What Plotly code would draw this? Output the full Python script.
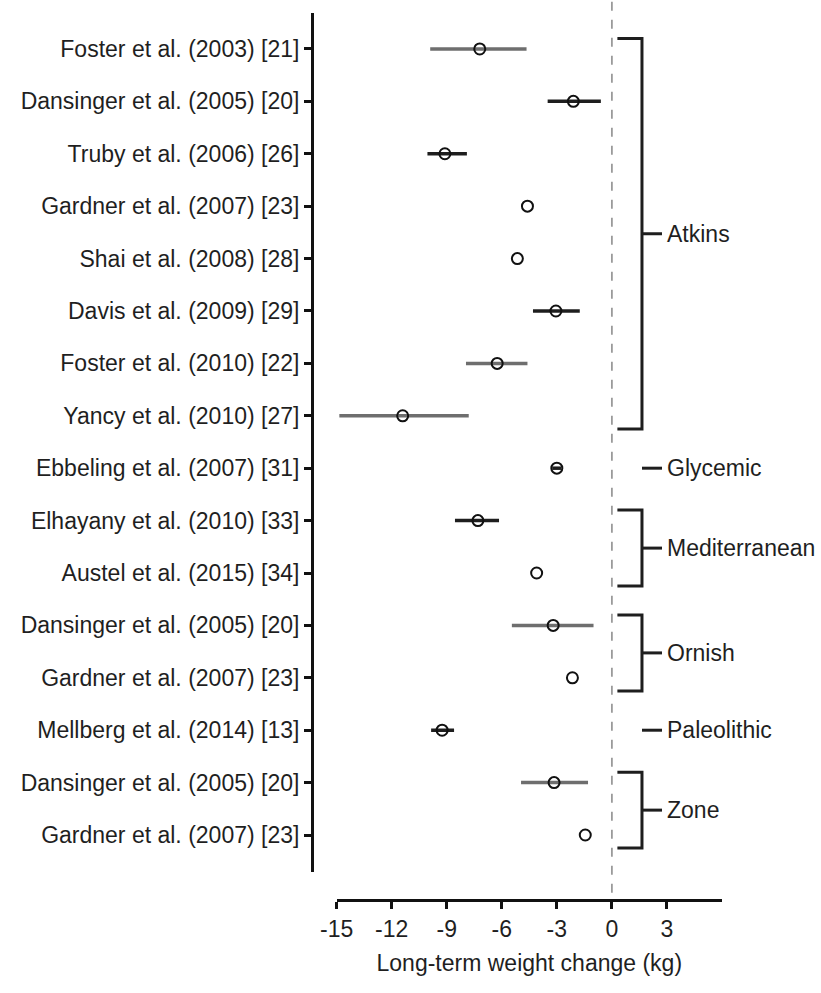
import plotly.graph_objects as go

# ---- data ----
studies = [
    "Foster et al. (2003) [21]",
    "Dansinger et al. (2005) [20]",
    "Truby et al. (2006) [26]",
    "Gardner et al. (2007) [23]",
    "Shai et al. (2008) [28]",
    "Davis et al. (2009) [29]",
    "Foster et al. (2010) [22]",
    "Yancy et al. (2010) [27]",
    "Ebbeling et al. (2007) [31]",
    "Elhayany et al. (2010) [33]",
    "Austel et al. (2015) [34]",
    "Dansinger et al. (2005) [20]",
    "Gardner et al. (2007) [23]",
    "Mellberg et al. (2014) [13]",
    "Dansinger et al. (2005) [20]",
    "Gardner et al. (2007) [23]",
]
diet = ["Atkins"] * 8 + ["Glycemic", "Mediterranean", "Mediterranean",
                         "Ornish", "Ornish", "Paleolithic", "Zone", "Zone"]
estimate = [-7.2, -2.1, -9.1, -4.6, -5.15, -3.05, -6.25, -11.4,
            -3.0, -7.3, -4.1, -3.2, -2.15, -9.25, -3.15, -1.45]
ci_low = [-9.9, -3.5, -10.05, None, None, -4.3, -7.95, -14.85,
          -3.25, -8.55, None, -5.45, None, -9.85, -4.95, None]
ci_high = [-4.65, -0.6, -7.9, None, None, -1.75, -4.6, -7.8,
           -2.75, -6.15, None, -1.0, None, -8.6, -1.3, None]
ci_shade = ["gray", "dark", "dark", None, None, "dark", "gray", "gray",
            "dark", "dark", None, "gray", None, "dark", "gray", None]
x_ticks = [-15, -12, -9, -6, -3, 0, 3]

# ---- styles ----
FONT = "Liberation Sans, Arial, sans-serif"
TXT = "#1f1f1f"
SHADE_COL = {"gray": "#6e6e6e", "dark": "#1e1e1e"}

rows = list(range(1, len(studies) + 1))

fig = go.Figure()

# confidence interval segments
for shade, col in SHADE_COL.items():
    xs, ys = [], []
    for r, lo, hi, s in zip(rows, ci_low, ci_high, ci_shade):
        if s == shade and lo is not None:
            xs += [lo, hi, None]
            ys += [r, r, None]
    fig.add_trace(go.Scatter(x=xs, y=ys, mode="lines",
                             line=dict(color=col, width=3.5),
                             hoverinfo="skip", showlegend=False))

# point estimates
fig.add_trace(go.Scatter(
    x=estimate, y=rows, mode="markers",
    marker=dict(symbol="circle-open", size=11, color="#111111",
                line=dict(width=2, color="#111111")),
    showlegend=False,
))

shapes = []
annotations = []

# reference line at zero
shapes.append(dict(type="line", xref="x", yref="paper", x0=0, x1=0,
                   y0=0.008, y1=1.0,
                   line=dict(color="#9a9a9a", width=1.8, dash="dash")))

# brackets per diet group
BX0, BX1, BX2 = 0.3, 1.64, 2.73
groups = []
for r, d in zip(rows, diet):
    if groups and groups[-1][0] == d:
        groups[-1][2] = r
    else:
        groups.append([d, r, r])

BCOL = "#1e1e1e"
for name, first, last in groups:
    if first == last:
        mid = first
    else:
        top = first - 0.2
        bot = last + 0.25
        mid = (top + bot) / 2
        path = f"M {BX0} {top} L {BX1} {top} L {BX1} {bot} L {BX0} {bot}"
        shapes.append(dict(type="path", xref="x", yref="y", path=path,
                           line=dict(color=BCOL, width=3)))
    shapes.append(dict(type="line", xref="x", yref="y", x0=BX1, x1=BX2,
                       y0=mid, y1=mid, line=dict(color=BCOL, width=3)))
    annotations.append(dict(x=2.9, y=mid, xref="x", yref="y", text=name,
                            showarrow=False, xanchor="left", yanchor="middle",
                            font=dict(family=FONT, size=23, color=TXT)))

fig.update_layout(
    width=821, height=993,
    margin=dict(l=312, r=99, t=0, b=93),
    paper_bgcolor="white", plot_bgcolor="white",
    shapes=shapes, annotations=annotations,
    font=dict(family=FONT, size=23, color=TXT),
    xaxis=dict(
        domain=[0.06, 1.0], range=[-15, 6], anchor="free", position=0,
        showgrid=False, zeroline=False,
        showline=True, linewidth=3, linecolor="#111111",
        ticks="outside", ticklen=7, tickwidth=2.5, tickcolor="#111111",
        tickvals=x_ticks, ticktext=[str(v) for v in x_ticks],
        tickfont=dict(family=FONT, size=23, color=TXT),
        title=dict(text="Long-term weight change (kg)", standoff=14,
                   font=dict(family=FONT, size=23, color=TXT)),
    ),
    yaxis=dict(
        domain=[0.0311, 0.9856], range=[16.706, 0.313], anchor="free",
        position=0, showgrid=False, zeroline=False,
        showline=True, linewidth=3, linecolor="#111111",
        ticks="outside", ticklen=7, tickwidth=2.5, tickcolor="#111111",
        tickvals=rows, ticktext=studies,
        tickfont=dict(family=FONT, size=23, color=TXT),
    ),
)

fig.write_html("out.html")
